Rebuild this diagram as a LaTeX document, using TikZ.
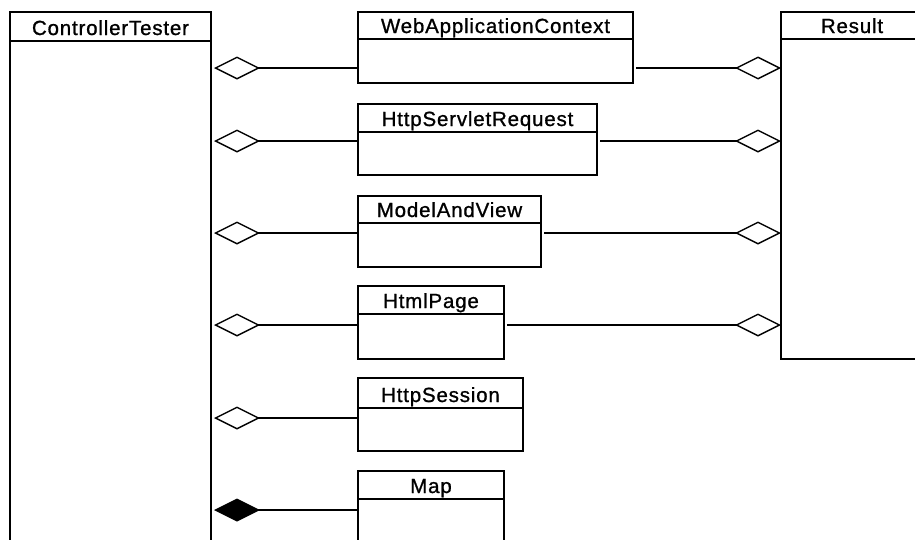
\documentclass[tikz,border=0pt]{standalone}
\usepackage{fontspec}
\setmainfont{Liberation Sans}[LetterSpace=4, FakeBold=1]
\usetikzlibrary{arrows.meta,calc}
\tikzset{
  umlbox/.style={draw, rectangle, inner sep=0pt, outer sep=0pt, line width=1.4pt, anchor=north west},
  umltitle/.style={anchor=base, inner sep=0pt, font=\fontsize{20.5}{24}\selectfont},
  divider/.style={line width=1.4pt},
  agg/.style={line width=1.4pt, -{Diamond[open, length=46pt, width=23pt, line join=miter]}},
  comp/.style={line width=1.4pt, -{Diamond[length=46pt, width=23pt]}}
}
\newcommand{\umlclass}[7]{%
  \node[umlbox, minimum width={#4pt-#2pt}, minimum height={#5pt-#3pt}] (#1) at (#2,#3) {};
  \draw[divider] (#1.west |- 0,#6) -- (#1.east |- 0,#6);
  \node[umltitle] (#1-t) at ({(#2+#4)/2},{#6-6}) {#7};
}
\begin{document}
\begin{tikzpicture}[x=1pt,y=-1pt]
\useasboundingbox (0,0) rectangle (915,539);
\clip (0,0) rectangle (915,539);
\umlclass{ct}{10}{12}{211}{570}{41}{ControllerTester}
\umlclass{wac}{358}{12}{633}{83}{39}{WebApplicationContext}
\umlclass{hsr}{358}{104}{597}{175}{132}{HttpServletRequest}
\umlclass{mav}{358}{196}{541}{267}{223}{ModelAndView}
\umlclass{hp}{358}{286}{504}{359}{314}{HtmlPage}
\umlclass{hs}{358}{378}{523}{451}{408}{HttpSession}
\umlclass{map}{358}{471}{504}{570}{499}{Map}
\umlclass{res}{781}{12}{923}{359}{39}{Result}
% left aggregations to ControllerTester
\draw[agg] (wac.west |- 0,68) -- ($(ct.east |- 0,68)+(3,0)$);
\draw[agg] (hsr.west |- 0,141) -- ($(ct.east |- 0,141)+(3,0)$);
\draw[agg] (mav.west |- 0,233) -- ($(ct.east |- 0,233)+(3,0)$);
\draw[agg] (hp.west |- 0,325) -- ($(ct.east |- 0,325)+(3,0)$);
\draw[agg] (hs.west |- 0,418) -- ($(ct.east |- 0,418)+(3,0)$);
\draw[comp] (map.west |- 0,510) -- ($(ct.east |- 0,510)+(3,0)$);
% right aggregations to Result
\draw[agg] ($(wac.east |- 0,68)+(3,0)$) -- (res.west |- 0,68);
\draw[agg] ($(hsr.east |- 0,141)+(3,0)$) -- (res.west |- 0,141);
\draw[agg] ($(mav.east |- 0,233)+(3,0)$) -- (res.west |- 0,233);
\draw[agg] ($(hp.east |- 0,325)+(3,0)$) -- (res.west |- 0,325);
\end{tikzpicture}
\end{document}
